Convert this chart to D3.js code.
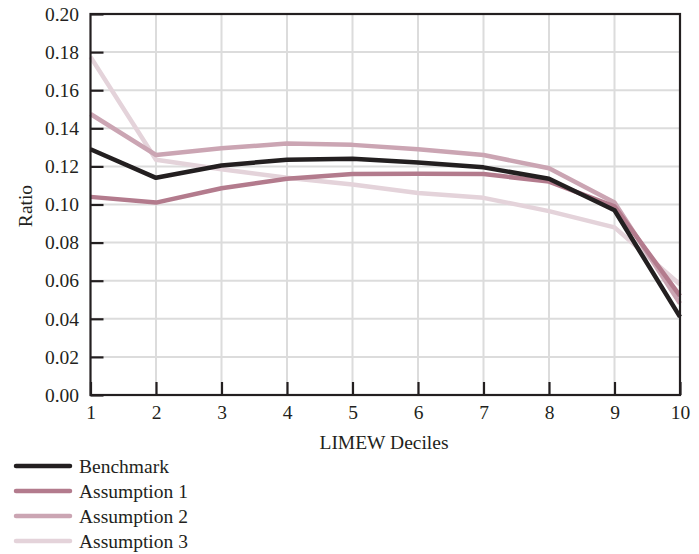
<!DOCTYPE html>
<html>
<head>
<meta charset="utf-8">
<script src="https://cdn.jsdelivr.net/npm/d3@7"></script>
<style>
  html, body { margin: 0; padding: 0; background: #fff; }
  svg { display: block; }
  svg text { font-family: "Liberation Serif", "DejaVu Serif", serif !important; fill: #231f20; }
</style>
</head>
<body>
<svg id="chart" width="699" height="554"></svg>
<script>
const deciles = [1, 2, 3, 4, 5, 6, 7, 8, 9, 10];
const seriesNames = ["Benchmark", "Assumption 1", "Assumption 2", "Assumption 3"];
const benchmark   = [0.129, 0.114, 0.1205, 0.1235, 0.124, 0.122, 0.1195, 0.1135, 0.097, 0.041];
const assumption1 = [0.104, 0.101, 0.1085, 0.1135, 0.116, 0.1162, 0.116, 0.112, 0.099, 0.052];
const assumption2 = [0.1475, 0.126, 0.1295, 0.132, 0.1313, 0.129, 0.126, 0.119, 0.101, 0.048];
const assumption3 = [0.1775, 0.1235, 0.1185, 0.114, 0.1105, 0.106, 0.1035, 0.0965, 0.088, 0.058];
const yTicks = [0, 0.02, 0.04, 0.06, 0.08, 0.10, 0.12, 0.14, 0.16, 0.18, 0.20];
const colors = ["#231f20", "#b37b8d", "#cba5b3", "#e4d3da"];

const FONT = "'Liberation Serif', 'DejaVu Serif', serif";
const FS = 19.5;

const svg = d3.select("#chart");
const x = d3.scaleLinear().domain([1, 10]).range([90.5, 680]);
const y = d3.scaleLinear().domain([0, 0.20]).range([395, 14]);

// gridlines
svg.append("g").selectAll("line").data(yTicks.slice(1)).join("line")
  .attr("x1", x(1)).attr("x2", x(10))
  .attr("y1", d => y(d)).attr("y2", d => y(d))
  .attr("stroke", "#dcdcdc").attr("stroke-width", 2);
svg.append("g").selectAll("line").data(deciles.slice(1, -1)).join("line")
  .attr("x1", d => x(d)).attr("x2", d => x(d))
  .attr("y1", y(0)).attr("y2", y(0.20))
  .attr("stroke", "#dcdcdc").attr("stroke-width", 2);

// series
const allSeries = [benchmark, assumption1, assumption2, assumption3];
const line = d3.line().x((d, i) => x(deciles[i])).y(d => y(d));
[3, 2, 1, 0].forEach(k => {
  svg.append("path").datum(allSeries[k])
    .attr("d", line)
    .attr("fill", "none")
    .attr("stroke", colors[k])
    .attr("stroke-width", 4.5)
    .attr("stroke-linejoin", "round");
});

// frame
svg.append("rect")
  .attr("x", x(1)).attr("y", y(0.20))
  .attr("width", x(10) - x(1)).attr("height", y(0) - y(0.20))
  .attr("fill", "none").attr("stroke", "#231f20").attr("stroke-width", 2.2);

// y axis
const yAxis = d3.axisLeft(y).tickValues(yTicks).tickFormat(d3.format(".2f"))
  .tickSizeInner(-13).tickSizeOuter(0).tickPadding(11.5);
const gy = svg.append("g").attr("transform", `translate(${x(1)},0)`).call(yAxis)
  .attr("font-family", FONT).attr("font-size", FS);
gy.select(".domain").remove();
gy.selectAll(".tick line").attr("stroke", "#231f20").attr("stroke-width", 2.2);
gy.selectAll(".tick text").style("font-family", FONT).style("font-size", FS + "px").attr("fill", "#231f20");

// x axis
const xAxis = d3.axisBottom(x).tickValues(deciles).tickFormat(d3.format("d"))
  .tickSizeInner(-13).tickSizeOuter(0).tickPadding(10);
const gx = svg.append("g").attr("transform", `translate(0,${y(0)})`).call(xAxis)
  .attr("font-family", FONT).attr("font-size", FS);
gx.select(".domain").remove();
gx.selectAll(".tick line").attr("stroke", "#231f20").attr("stroke-width", 2.2);
gx.selectAll(".tick text").style("font-family", FONT).style("font-size", FS + "px").attr("fill", "#231f20");

// axis titles
svg.append("text").attr("x", 384).attr("y", 449)
  .attr("text-anchor", "middle").style("font-size", FS + "px").text("LIMEW Deciles");
svg.append("text").attr("transform", "translate(32,206) rotate(-90)")
  .attr("text-anchor", "middle").style("font-size", FS + "px").text("Ratio");

// legend
const legend = svg.append("g");
seriesNames.forEach((name, i) => {
  const ly = 466 + i * 25;
  legend.append("line").attr("x1", 16).attr("x2", 70).attr("y1", ly).attr("y2", ly)
    .attr("stroke", colors[i]).attr("stroke-width", 4.5).attr("stroke-linecap", "round");
  legend.append("text").attr("x", 79).attr("y", ly + 7).style("font-size", FS + "px").text(name);
});
</script>
</body>
</html>
